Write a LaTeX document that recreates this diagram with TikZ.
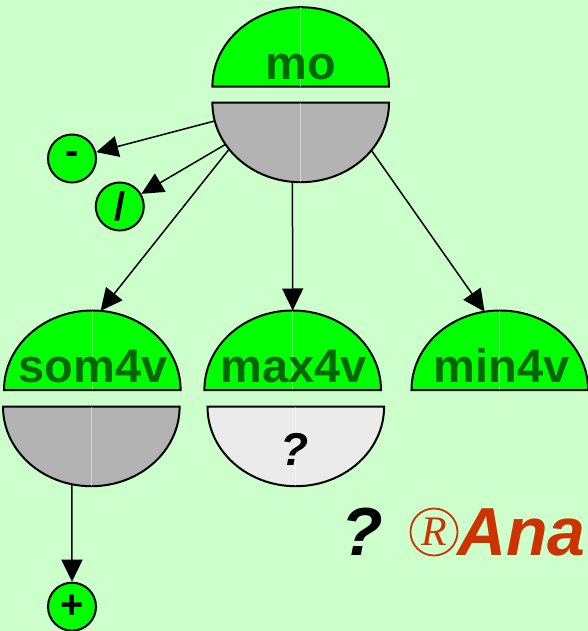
\documentclass[tikz,border=0pt]{standalone}
\usepackage{fontspec}
\setmainfont{Liberation Sans}
\newfontfamily\serifR{Liberation Serif}
\usetikzlibrary{arrows.meta,shapes.geometric}
\definecolor{bg}{HTML}{CCFFCC}
\definecolor{nodegreen}{HTML}{00FF00}
\definecolor{txtgreen}{HTML}{006600}
\definecolor{halfgray}{HTML}{B3B3B3}
\definecolor{halflight}{HTML}{EBEBEB}
\definecolor{brandred}{HTML}{CC3300}
\newcommand\tophalf[1]{%
  \draw[line width=2pt, fill=nodegreen] (#1.west) arc[start angle=180, end angle=0, x radius=88.3pt, y radius=79.5pt] -- cycle;
  \draw[midline] (#1.north) -- (#1.center);}
\newcommand\bothalf[2]{%
  \draw[line width=2pt, fill=#2] (#1.west) arc[start angle=180, end angle=360, x radius=88.3pt, y radius=79.5pt] -- cycle;
  \draw[midline] (#1.south) -- (#1.center);}
\begin{document}
\begin{tikzpicture}[x=1pt,y=1pt,
  half/.style={ellipse, minimum width=176.6pt, minimum height=159pt, inner sep=0pt, outer sep=0pt, draw=none},
  op/.style={circle, draw=black, line width=2pt, fill=nodegreen, minimum size=48pt, inner sep=0pt, font=\fontsize{40}{40}\selectfont\bfseries},
  arr/.style={line width=1.5pt, -{Triangle[length=22pt,width=21pt]}},
  lbl/.style={font=\fontsize{47}{47}\selectfont\bfseries, text=txtgreen, anchor=base, inner sep=0pt},
  midline/.style={draw=white, draw opacity=0.45, line width=0.7pt},
]
\fill[bg] (0,0) rectangle (588,-631);
\useasboundingbox (0,0) rectangle (588,-631);

% invisible ellipse nodes carrying the half shapes
\node[half] (mo)     at (300.7,-86.7) {};
\node[half] (mo-b)   at (300.7,-102.7) {};
\node[half] (som4v)  at (92.3,-390) {};
\node[half] (som4v-b) at (91.3,-406.7) {};
\node[half] (max4v)  at (292.7,-390) {};
\node[half] (max4v-b) at (295.8,-406.7) {};
\node[half] (min4v)  at (499.8,-390) {};

\tophalf{mo}
\bothalf{mo-b}{halfgray}
\tophalf{som4v}
\bothalf{som4v-b}{halfgray}
\tophalf{max4v}
\bothalf{max4v-b}{halflight}
\tophalf{min4v}

\node[lbl] (mo-t) at ([yshift=6.7pt]mo.center) {mo};
\node[lbl] (som4v-t) at ([shift={(1pt,7.7pt)}]som4v.center) {som4v};
\node[lbl] (max4v-t) at ([shift={(1pt,7.7pt)}]max4v.center) {max4v};
\node[lbl] (min4v-t) at ([shift={(2pt,7.7pt)}]min4v.center) {min4v};
\node[anchor=base, inner sep=0pt, font=\fontsize{46}{46}\selectfont\bfseries\itshape] (q1) at (294.3,-465.7) {?};

% operator circles
\node[op] (minus) at (72,-158.5) {-};
\node[op] (slash) at (119.8,-206.5) {/};
\node[op] (plus)  at (72,-606.7) {+};

% connectors
\draw[arr] (mo-b.192.5) -- (minus);
\draw[arr] (mo-b.209.2) -- (slash);
\draw[arr] (mo-b.213) -- (som4v.84);
\draw[arr] (mo-b.264.3) -- (max4v.north);
\draw[arr] (mo-b.326.3) -- (min4v.101);
\draw[arr] (som4v-b.256.1) -- (plus);

% bottom caption
\node[anchor=base, inner sep=0pt, font=\fontsize{68}{68}\selectfont\bfseries\itshape] (q2) at (362,-555) {?};
\node[circle, draw=brandred, line width=1.8pt, minimum size=47pt, inner sep=0pt, text=brandred, font=\fontsize{42}{42}\selectfont\serifR\itshape] (reg) at (434,-532) {R};
\node[anchor=base west, inner sep=0pt, text=brandred, font=\fontsize{68}{68}\selectfont\bfseries\itshape] (ana) at (457,-555) {Ana};
\end{tikzpicture}
\end{document}
